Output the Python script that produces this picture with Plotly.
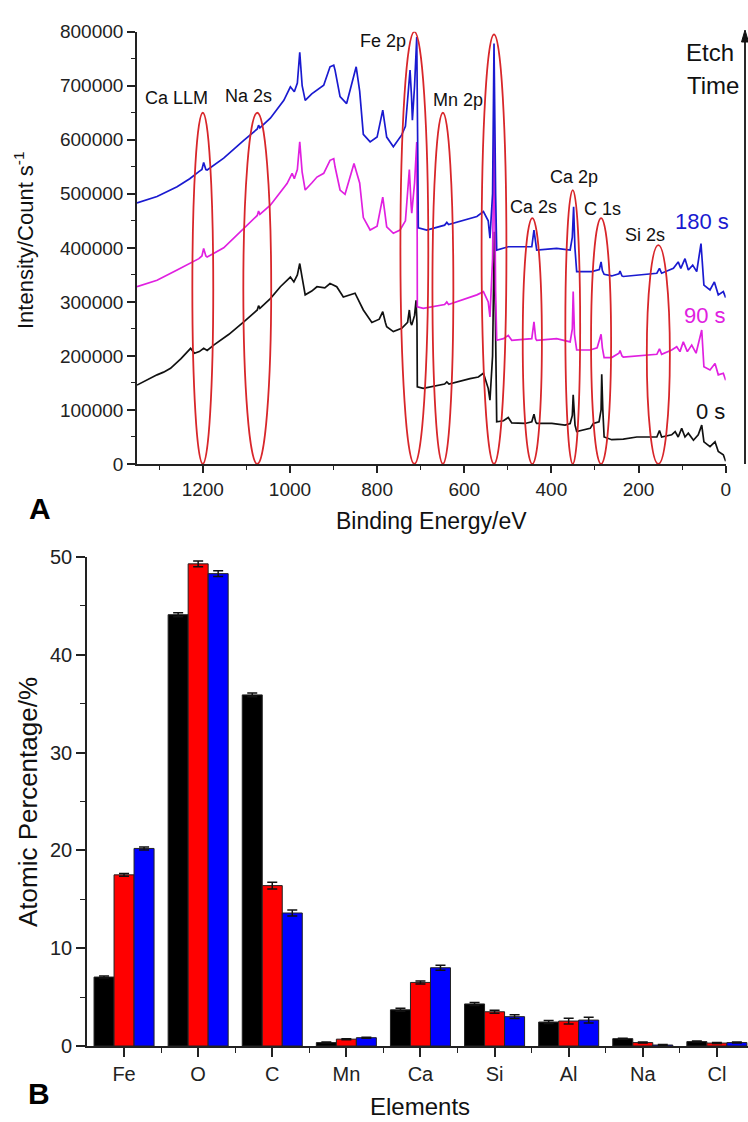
import plotly.graph_objects as go

# ---------------- Panel A : XPS survey spectra ----------------
be_0s = [1351,1330,1305,1290,1274,1250,1228,1219,1208,1198,1190,1175,1140,1106,1090,1075,1072,1069,1045,1022,
         999,991,983,977.5,972,965,950,938,920,908,899.5,892.6,877.5,860,850.6,831.6,812,795,787,781,778,762.7,
         743.5,730,726,723,720.5,714,710.6,708.5,707.7,694,660,645,640,635,586.7,567.7,556,545,541,535,531,528,
         525.5,510,499,491,460.5,445,440,436,433.7,399,368.7,357,352,350,347,345.8,342,311,303.8,290.7,286,284.5,
         282,279,261.6,235,204,158,152,147,124,116,109,101,93.4,85.8,74,63,55,50,36,24.5,17,5.5,0]
int_0s = [146000,155000,165000,170000,177000,195000,214000,205000,208000,214000,210000,220000,240000,263000,275000,
          285000,293000,288000,306000,328000,346000,337000,350000,371000,345000,313000,320000,328000,326000,334000,
          331000,328000,309000,313000,316000,285000,262000,268000,282000,262000,254000,245000,251000,262000,285000,
          262000,257000,275000,303000,260000,143000,140000,145000,148000,152000,148000,158000,161000,168000,140000,
          118000,200000,430000,160000,78000,80000,86000,76000,75000,78000,92000,78000,75000,75000,72000,75000,90000,
          128000,90000,72000,60000,66000,75000,78000,100000,166000,100000,50000,45000,46000,50000,50000,62000,50000,
          54000,60000,50000,66000,50000,57000,44000,54000,72000,41000,32000,41000,23000,17000,5000]

be_90s = [1351,1330,1305,1259,1230,1209,1202,1198,1193,1190,1152,1106,1075,1072,1069,1045,1006.7,995,990,983,977.5,
          972,965,950,938,922.5,908,899.5,896.5,885,873.6,853,840,831.6,816,800,787,783,778,762.7,747.4,735,726,722,
          720.5,714,709,708,707.7,694,645,640,636,571,556,545,541,535,531.5,528,525.5,510,499,491,445,440,436,433.7,
          388,357,352,350,347,342,311,295,286,283,279,261.6,245,242.5,238,235,158,152,147,124,112.4,105,97.3,88,78,
          68,55,50,36,24.5,17,5.5,0]
int_90s = [328000,333000,340000,359000,372000,380000,385000,399000,385000,383000,400000,436000,460000,468000,462000,
           479000,519000,538000,528000,545000,596000,540000,507000,520000,531000,538000,562000,565000,550000,507000,
           499000,556000,520000,456000,433000,440000,494000,470000,439000,427000,433000,450000,545000,480000,464000,
           520000,596000,420000,291000,288000,295000,300000,295000,313000,319000,300000,272000,380000,630000,320000,
           229000,232000,238000,229000,232000,263000,232000,229000,232000,226000,250000,319000,240000,211000,211000,
           215000,240000,215000,197000,197000,205000,210000,200000,198000,203000,213000,203000,211000,217000,208000,
           226000,208000,220000,205000,248000,180000,174000,186000,165000,168000,155000]

be_180s = [1351,1330,1305,1259,1230,1209,1202,1198,1193,1190,1152,1106,1075,1072,1069,1045,1014,999,990,983,977.5,
           972,965,950,938,922.5,908,899.5,896.5,885,870,848,840,831.6,816,800,787,783,778,762.7,743.5,735,724.4,721,
           719,714,709,706.5,705.4,686,645,640,636,571,556,545,541,535,531.7,528,525.5,499,445,440,436,433.7,388,357,
           352,349,346,342,307.5,290,286,283,279,261.6,245,242.5,238,235,158,152,147,120,109,103,93.4,85.8,75.7,66.5,
           56.7,50,36,26,17,5.5,0]
int_180s = [483000,488000,495000,513000,528000,541000,545000,558000,545000,544000,566000,599000,620000,627000,622000,
            640000,673000,698000,689000,705000,762000,700000,673000,685000,692000,701000,735000,738000,729000,680000,
            667000,735000,690000,610000,596000,605000,655000,630000,605000,587000,609000,625000,729000,680000,636000,
            700000,790000,560000,437000,433000,442000,447000,443000,458000,467000,450000,418000,500000,778000,500000,
            396000,402000,402000,433000,402000,396000,399000,396000,420000,476000,400000,356000,356000,360000,374000,
            358000,351000,348000,352000,357000,348000,347000,353000,362000,353000,362000,374000,362000,380000,359000,
            368000,356000,408000,331000,322000,337000,313000,319000,308000]

# Red ellipses marking the peaks (centre energy, half-width in eV, top intensity)
peak_names = ["Ca LLM", "Na 2s", "Fe 2p", "Mn 2p", "O 1s", "Ca 2s", "Ca 2p", "C 1s", "Si 2s"]
peak_centers = [1200, 1075, 714.5, 649, 531.7, 443.8, 351, 286, 154.6]
peak_halfwidths = [24, 32, 32, 24, 28.5, 22, 17, 23, 26.5]
peak_tops = [650000, 650000, 800000, 650000, 795000, 455000, 507000, 455000, 405000]
label_x = [1261, 1094, 787.5, 615, 534, 440, 348, 283, 186]
label_y = [677000, 681000, 783000, 673000, 812000, 475000, 531000, 472000, 424000]

# ---------------- Panel B : atomic percentages ----------------
elements = ["Fe", "O", "C", "Mn", "Ca", "Si", "Al", "Na", "Cl"]
at_0s = [7.05, 44.1, 35.9, 0.35, 3.7, 4.3, 2.45, 0.75, 0.45]
at_90s = [17.5, 49.3, 16.4, 0.7, 6.5, 3.5, 2.55, 0.35, 0.3]
at_180s = [20.2, 48.3, 13.6, 0.85, 8.0, 3.0, 2.65, 0.1, 0.35]
err_0s = [0.1, 0.2, 0.2, 0.05, 0.15, 0.15, 0.15, 0.05, 0.05]
err_90s = [0.15, 0.3, 0.35, 0.05, 0.15, 0.15, 0.3, 0.05, 0.05]
err_180s = [0.15, 0.3, 0.3, 0.05, 0.25, 0.2, 0.3, 0.05, 0.05]

FONT = "Liberation Sans, Arial, sans-serif"
BLACK = "#111111"
MAGENTA = "#e020e0"
BLUE = "#1a1ad0"
RED_ELL = "#d8262a"
W, H = 748, 1122

fig = go.Figure()

for be, it, col, nm in [(be_0s, int_0s, BLACK, "0 s"), (be_90s, int_90s, MAGENTA, "90 s"),
                        (be_180s, int_180s, BLUE, "180 s")]:
    fig.add_trace(go.Scatter(x=be, y=it, mode="lines", line=dict(color=col, width=1.7),
                             name=nm, showlegend=False, xaxis="x", yaxis="y"))

xpos = list(range(len(elements)))
for vals, errs, col, nm in [(at_0s, err_0s, "#000000", "0 s"), (at_90s, err_90s, "#ff0000", "90 s"),
                            (at_180s, err_180s, "#0000ff", "180 s")]:
    fig.add_trace(go.Bar(x=xpos, y=vals, name=nm, showlegend=False,
                         marker=dict(color=col, line=dict(color="#222222", width=1)),
                         error_y=dict(type="data", array=errs, color="#111111", thickness=1.5, width=5),
                         xaxis="x2", yaxis="y2"))

for c, hw, top in zip(peak_centers, peak_halfwidths, peak_tops):
    fig.add_shape(type="circle", xref="x", yref="y", x0=c - hw, x1=c + hw, y0=0, y1=top,
                  line=dict(color=RED_ELL, width=1.8), layer="above")

# etch-time arrow (vertical line with arrow head at the top)
ax_px, y_bot, y_top = 745, 464, 30
fig.add_shape(type="line", xref="paper", yref="paper", x0=ax_px / W, x1=ax_px / W,
              y0=1 - y_bot / H, y1=1 - (y_top + 8) / H, line=dict(color="#111111", width=1.8))
fig.add_shape(type="path", xref="paper", yref="paper",
              path=f"M {(ax_px - 3.5) / W},{1 - (y_top + 12) / H} L {ax_px / W},{1 - y_top / H} "
                   f"L {(ax_px + 3.5) / W},{1 - (y_top + 12) / H} Z",
              fillcolor="#111111", line=dict(color="#111111", width=1))


def paper_ann(px, py, text, size, angle=0, color="#111111"):
    return dict(x=px / W, y=1 - py / H, xref="paper", yref="paper", text=text, showarrow=False,
                xanchor="center", yanchor="middle", textangle=angle,
                font=dict(size=size, color=color, family=FONT))


def data_ann(x, y, text, size, color="#111111"):
    return dict(x=x, y=y, xref="x", yref="y", text=text, showarrow=False,
                xanchor="center", yanchor="middle", font=dict(size=size, color=color, family=FONT))


ann = [data_ann(lx, ly, nm, 18) for nm, lx, ly in zip(peak_names, label_x, label_y)]
ann += [
    data_ann(54, 448000, "180 s", 22, BLUE),
    data_ann(47.5, 274000, "90 s", 22, MAGENTA),
    data_ann(36, 98000, "0 s", 22, BLACK),
    data_ann(37, 762000, "Etch", 24),
    data_ann(30, 701000, "Time", 24),
    paper_ann(431, 521, "Binding Energy/eV", 23),
    paper_ann(24, 240, "Intensity/Count s<sup>-1</sup>", 22, angle=-90),
    paper_ann(420, 1106, "Elements", 24),
    paper_ann(28, 802, "Atomic Percentage/%", 26, angle=-90),
    paper_ann(40, 509, "<b>A</b>", 30, color="#000000"),
    paper_ann(39, 1093, "<b>B</b>", 30, color="#000000"),
]

axis_common = dict(showline=True, linecolor="#222222", linewidth=1.6, ticks="outside", tickcolor="#222222",
                   tickwidth=1.6, showgrid=False, zeroline=False, automargin=False)

fig.update_layout(
    width=W, height=H, margin=dict(l=0, r=0, t=0, b=0),
    paper_bgcolor="white", plot_bgcolor="white",
    font=dict(family=FONT, color="#111111"),
    barmode="group", bargap=0.19, bargroupgap=0,
    xaxis=dict(domain=[137 / W, 725.7 / W], range=[1351, 0], anchor="y",
               tickvals=[1200, 1000, 800, 600, 400, 200, 0], ticklen=7,
               minor=dict(dtick=100, tick0=0, ticklen=4, tickcolor="#222222", tickwidth=1.4, ticks="outside"),
               tickfont=dict(size=19, family=FONT, color="#222222"), **axis_common),
    yaxis=dict(domain=[1 - 464 / H, 1 - 31.7 / H], range=[0, 800000], anchor="x",
               tickvals=[0, 100000, 200000, 300000, 400000, 500000, 600000, 700000, 800000],
               tickformat="d", ticklen=8,
               minor=dict(dtick=50000, tick0=0, ticklen=4, tickcolor="#222222", tickwidth=1.4, ticks="outside"),
               tickfont=dict(size=19, family=FONT, color="#222222"), **axis_common),
    xaxis2=dict(domain=[87 / W, 1.0], range=[-0.5, 8.42], anchor="y2",
                tickvals=xpos, ticktext=elements, ticklen=9,
                minor=dict(tickvals=[i + 0.5 for i in xpos], ticklen=5, tickcolor="#222222", tickwidth=1.4,
                           ticks="outside"),
                tickfont=dict(size=20, family=FONT, color="#222222"), **axis_common),
    yaxis2=dict(domain=[1 - 1046 / H, 1 - 557 / H], range=[0, 50], anchor="x2",
                tickvals=[0, 10, 20, 30, 40, 50], ticklen=9,
                minor=dict(dtick=5, tick0=0, ticklen=5, tickcolor="#222222", tickwidth=1.4, ticks="outside"),
                tickfont=dict(size=20, family=FONT, color="#222222"), **axis_common),
    annotations=ann,
)

fig.write_html("out.html")
